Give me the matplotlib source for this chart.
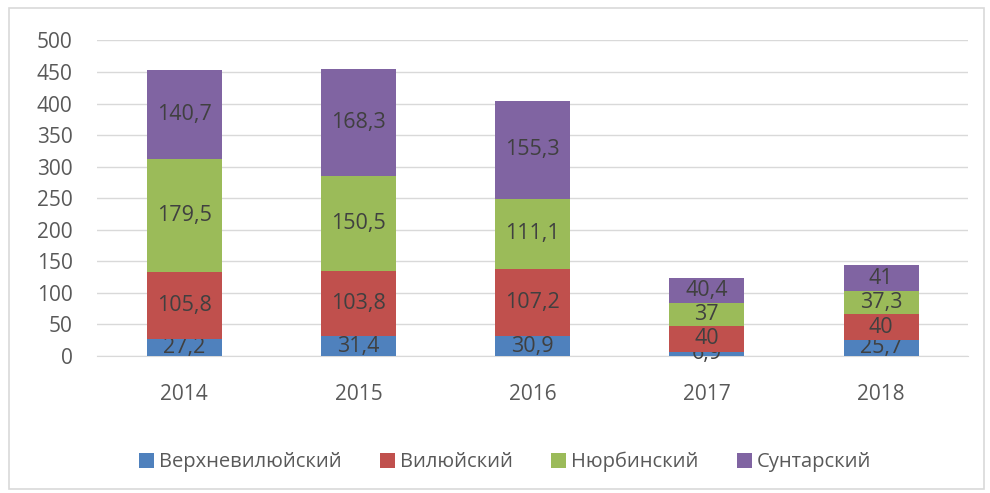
import matplotlib.pyplot as plt
from matplotlib.patches import Rectangle

plt.rcParams['font.family'] = ['Open Sans', 'DejaVu Sans']

years = ['2014', '2015', '2016', '2017', '2018']
names = ['Верхневилюйский', 'Вилюйский', 'Нюрбинский', 'Сунтарский']
verkhnevilyuisky = [27.2, 31.4, 30.9, 6.9, 25.7]
vilyuisky = [105.8, 103.8, 107.2, 40, 40]
nyurbinsky = [179.5, 150.5, 111.1, 37, 37.3]
suntarsky = [140.7, 168.3, 155.3, 40.4, 41]
series = [verkhnevilyuisky, vilyuisky, nyurbinsky, suntarsky]
colors = ['#4F81BD', '#C0504D', '#9BBB59', '#8064A2']

fig = plt.figure(figsize=(9.9, 4.93), dpi=100)
ax = fig.add_axes([0.098, 0.278, 0.88, 0.64])

x = range(len(years))
bottom = [0] * len(years)
for vals, name, col in zip(series, names, colors):
    bars = ax.bar(x, vals, width=0.43, bottom=bottom, color=col, label=name, zorder=3)
    labels = [str(v).replace('.', ',') for v in vals]
    ax.bar_label(bars, labels=labels, label_type='center', fontsize=15.5, color='#404040')
    bottom = [b + v for b, v in zip(bottom, vals)]

ax.set_ylim(0, 500)
ax.set_xlim(-0.5, 4.5)
ax.set_yticks(range(0, 501, 50))
ax.set_xticks(list(x))
ax.set_xticklabels(years)
ax.grid(axis='y', color='#D9D9D9', linewidth=1, zorder=0)
for s in ['top', 'right', 'left']:
    ax.spines[s].set_visible(False)
ax.spines['bottom'].set_color('#D9D9D9')
ax.tick_params(axis='both', length=0, labelsize=15, colors='#595959')
ax.tick_params(axis='x', pad=20)
ax.tick_params(axis='y', pad=17.5)

leg = fig.legend(loc='center', bbox_to_anchor=(0.51, 0.063), ncol=4, frameon=False,
                 fontsize=14.5, handlelength=0.75, handleheight=0.75, handletextpad=0.25,
                 columnspacing=1.9)
for t in leg.get_texts():
    t.set_color('#595959')

fig.patches.append(Rectangle((0.009, 0.008), 0.985, 0.975, transform=fig.transFigure,
                             fill=False, edgecolor='#D9D9D9', linewidth=1.2))

fig.savefig('out.png', dpi=100)
